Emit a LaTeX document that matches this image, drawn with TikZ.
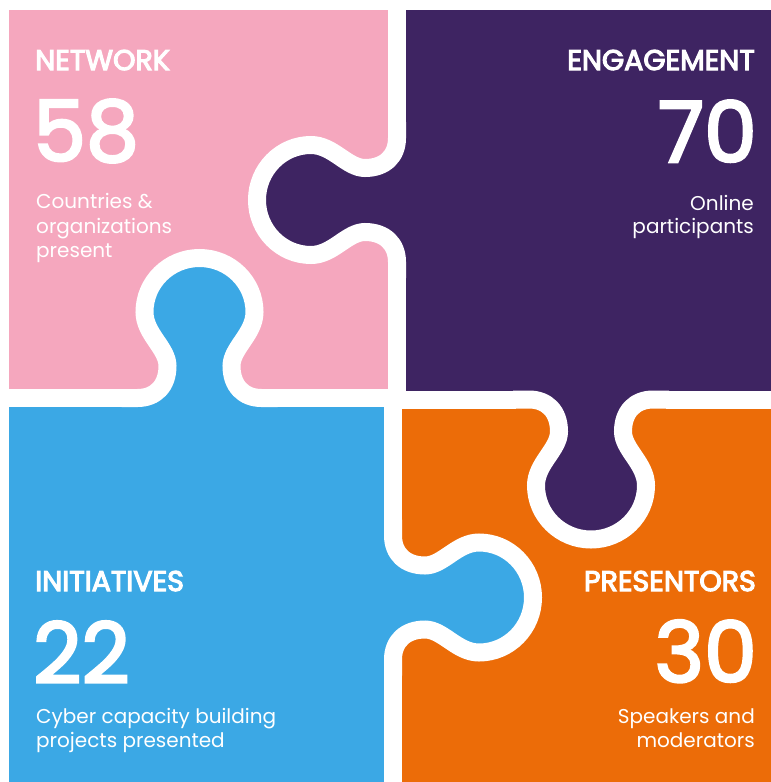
\documentclass[tikz,border=0pt]{standalone}
\usepackage{fontspec}
\setmainfont{Poppins}
\newfontfamily\semifont[FakeBold=4]{Poppins}
\newfontfamily\numfont[FakeBold=3]{Poppins}
\definecolor{pinkc}{RGB}{245,167,190}
\definecolor{purplec}{RGB}{62,36,98}
\definecolor{bluec}{RGB}{59,168,229}
\definecolor{orangec}{RGB}{236,108,8}
\def\knob{(-78,0) -- (-62,0) .. controls (-44,0) and (-32,12) .. (-32,32) .. controls (-32,50) and (-55,64) .. (-55,86) .. controls (-55,115.8) and (-30.4,140) .. (0,140) .. controls (30.4,140) and (55,115.8) .. (55,86) .. controls (55,64) and (32,50) .. (32,32) .. controls (32,12) and (44,0) .. (62,0) -- (78,0)}
\tikzset{
  cut/.style={draw=white, line width=18pt},
  head/.style={text=white, inner sep=0pt, font=\fontsize{28.5}{32}\selectfont\semifont},
  num/.style={text=white, inner sep=0pt, font=\fontsize{84}{90}\selectfont\numfont},
  body/.style={text=white, inner sep=0pt, font=\fontsize{20}{24}\selectfont},
}
\begin{document}
\begin{tikzpicture}[x=1pt,y=-1pt]
\useasboundingbox (0,0) rectangle (771,782);
\fill[white] (0,0) rectangle (771,782);
% quadrants
\fill[pinkc] (9,10) rectangle (397,398);
\fill[purplec] (397,10) rectangle (771,399.5);
\fill[bluec] (9,398) rectangle (393,782);
\fill[orangec] (393,399.5) rectangle (771,782);
% knob A: purple into pink
\begin{scope}[shift={(397,200)}, x={(0pt,-1pt)}, y={(-1pt,0pt)}]
  \fill[purplec] \knob -- cycle;
  \draw[cut] \knob;
\end{scope}
% knob B: blue into pink
\begin{scope}[shift={(199.5,398)}, x={(1pt,0pt)}, y={(0pt,1pt)}]
  \fill[bluec] \knob -- cycle;
  \draw[cut] \knob;
\end{scope}
% knob C: purple into orange
\begin{scope}[shift={(591,399.5)}, x={(1pt,0pt)}, y={(0pt,-1pt)}]
  \fill[purplec] \knob -- cycle;
  \draw[cut] \knob;
\end{scope}
% knob D: blue into orange
\begin{scope}[shift={(393,597.5)}, x={(0pt,-1pt)}, y={(1pt,0pt)}]
  \fill[bluec] \knob -- cycle;
  \draw[cut] \knob;
\end{scope}
% straight cuts
\draw[cut] (397,0) -- (397,125);
\draw[cut] (397,275) -- (397,408);
\draw[cut] (0,398) -- (124.5,398);
\draw[cut] (274.5,398) -- (399,398);
\draw[cut] (391,399.5) -- (516,399.5);
\draw[cut] (666,399.5) -- (771,399.5);
\draw[cut] (393,390) -- (393,522.5);
\draw[cut] (393,672.5) -- (393,782);
% texts
\node[head, anchor=base west] (nh) at (35,70) {NETWORK};
\node[num, anchor=base west] (nn) at (33,161) {58};
\node[body, anchor=base west] (nb1) at (36,208) {Countries \&};
\node[body, anchor=base west] (nb2) at (36,233) {organizations};
\node[body, anchor=base west] (nb3) at (36,257) {present};
\node[head, anchor=base east] (eh) at (755,70) {ENGAGEMENT};
\node[num, anchor=base east] (en) at (757,162) {70};
\node[body, anchor=base east] (eb1) at (754,210) {Online};
\node[body, anchor=base east] (eb2) at (754,233) {participants};
\node[head, anchor=base west] (ih) at (35,591) {INITIATIVES};
\node[num, anchor=base west] (in) at (33,683) {22};
\node[body, anchor=base west] (ib1) at (36,723) {Cyber capacity building};
\node[body, anchor=base west] (ib2) at (36,747) {projects presented};
\node[head, anchor=base east] (ph) at (756,591) {PRESENTORS};
\node[num, anchor=base east] (pn) at (757,682) {30};
\node[body, anchor=base east] (pb1) at (755,723) {Speakers and};
\node[body, anchor=base east] (pb2) at (755,747) {moderators};
\end{tikzpicture}
\end{document}
